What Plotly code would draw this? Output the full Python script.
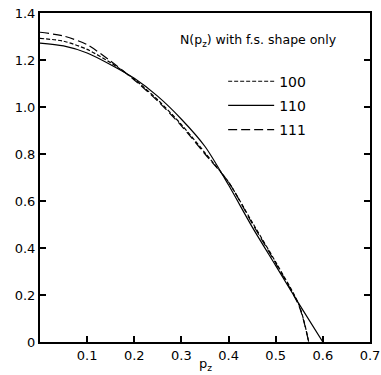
import plotly.graph_objects as go

# Data
pz_110 = [0, 0.05, 0.1, 0.15, 0.2, 0.25, 0.3, 0.35, 0.4, 0.45, 0.5, 0.55, 0.6]
n_110 = [1.272, 1.260, 1.230, 1.180, 1.122, 1.045, 0.948, 0.832, 0.668, 0.490, 0.325, 0.160, 0.0]

pz_100 = [0, 0.05, 0.1, 0.15, 0.2, 0.25, 0.3, 0.35, 0.4, 0.45, 0.5, 0.55, 0.57]
n_100 = [1.292, 1.280, 1.245, 1.188, 1.118, 1.030, 0.925, 0.805, 0.680, 0.510, 0.340, 0.155, 0.0]

pz_111 = [0, 0.05, 0.1, 0.15, 0.2, 0.25, 0.3, 0.35, 0.4, 0.45, 0.5, 0.55, 0.57]
n_111 = [1.318, 1.302, 1.265, 1.195, 1.115, 1.025, 0.920, 0.800, 0.680, 0.505, 0.335, 0.150, 0.0]

x_ticks = [0.1, 0.2, 0.3, 0.4, 0.5, 0.6, 0.7]
x_labels = ["0.1", "0.2", "0.3", "0.4", "0.5", "0.6", "0.7"]
y_ticks = [0, 0.2, 0.4, 0.6, 0.8, 1.0, 1.2, 1.4]
y_labels = ["0", "0.2", "0.4", "0.6", "0.8", "1.0", "1.2", "1.4"]

FONT = "DejaVu Sans"

fig = go.Figure()
fig.add_trace(go.Scatter(x=pz_100, y=n_100, mode="lines", name="100",
                         line=dict(color="black", width=1.2, dash="4px,2px", shape="spline", smoothing=0.8)))
fig.add_trace(go.Scatter(x=pz_110, y=n_110, mode="lines", name="110",
                         line=dict(color="black", width=1.2, shape="spline", smoothing=0.8)))
fig.add_trace(go.Scatter(x=pz_111, y=n_111, mode="lines", name="111",
                         line=dict(color="black", width=1.2, dash="9px,4px", shape="spline", smoothing=0.8)))

fig.update_layout(
    width=381, height=375,
    margin=dict(l=40, r=11, t=13, b=33, autoexpand=False),
    paper_bgcolor="white", plot_bgcolor="white",
    font=dict(family=FONT, size=13, color="black"),
    showlegend=True,
    legend=dict(x=0.555, y=0.84, xanchor="left", yanchor="top",
                bgcolor="rgba(0,0,0,0)", borderwidth=0,
                font=dict(family=FONT, size=14, color="black"),
                itemwidth=46, tracegroupgap=3, traceorder="grouped"),
    annotations=[
        dict(text="N(p<sub>z</sub>) with f.s. shape only", xref="paper", yref="paper",
             x=0.905, y=0.915, xanchor="right", yanchor="middle", showarrow=False,
             font=dict(family=FONT, size=12.5, color="black")),
        dict(text="p<sub>z</sub>", xref="paper", yref="paper",
             x=0.5, y=-0.068, xanchor="center", yanchor="middle", showarrow=False,
             font=dict(family=FONT, size=13, color="black")),
    ],
)
for i, tr in enumerate(fig.data):
    tr.legendgroup = f"g{i}"

fig.update_xaxes(range=[0, 0.7], tickvals=x_ticks, ticktext=x_labels,
                 ticks="inside", ticklen=6, tickwidth=1.5, tickcolor="black",
                 ticklabelstandoff=0, automargin=False,
                 showline=True, linewidth=2, linecolor="black", mirror=True,
                 showgrid=False, zeroline=False)
fig.update_yaxes(range=[0, 1.4], tickvals=y_ticks, ticktext=y_labels,
                 ticks="inside", ticklen=6, tickwidth=1.5, tickcolor="black",
                 automargin=False,
                 showline=True, linewidth=2, linecolor="black", mirror="ticks",
                 showgrid=False, zeroline=False)

fig.write_html("out.html")
